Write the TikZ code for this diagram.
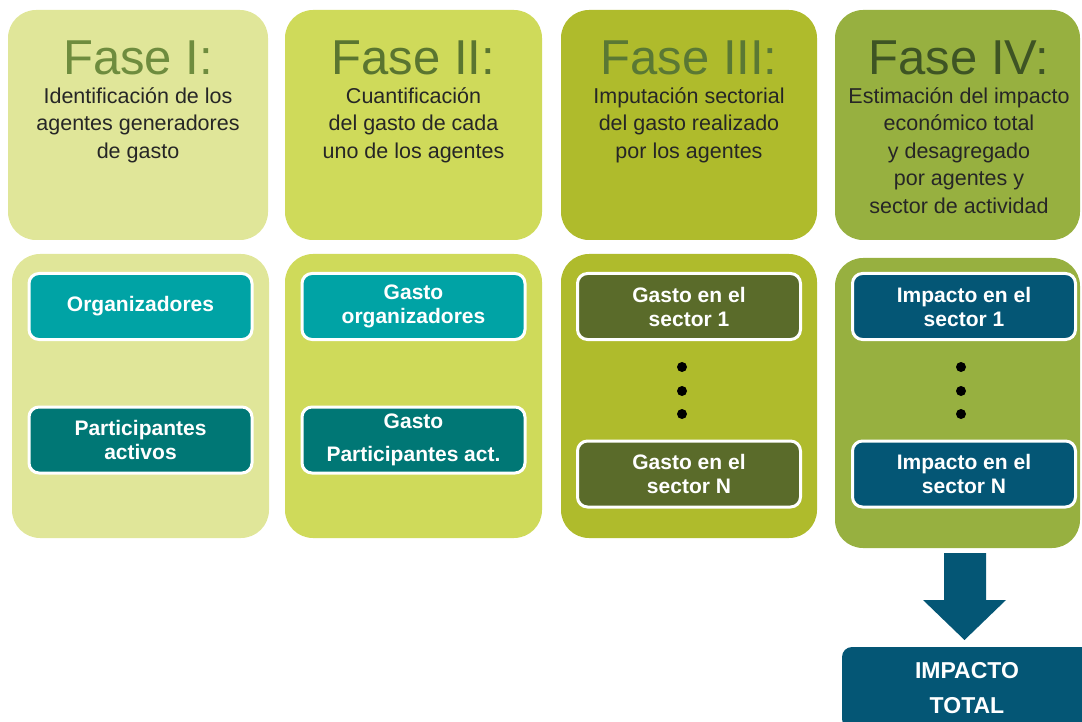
\documentclass[tikz,border=0pt]{standalone}
\usepackage{fontspec}
\setmainfont{Liberation Sans}
\usepackage{xcolor}
\definecolor{fsone}{RGB}{224,230,153}
\definecolor{fstwo}{RGB}{207,218,90}
\definecolor{fsthree}{RGB}{175,187,44}
\definecolor{fsfour}{RGB}{151,176,64}
\definecolor{ttone}{RGB}{110,140,62}
\definecolor{tttwo}{RGB}{90,117,48}
\definecolor{ttthree}{RGB}{90,120,52}
\definecolor{ttfour}{RGB}{62,84,36}
\definecolor{tealA}{RGB}{0,163,165}
\definecolor{tealB}{RGB}{0,119,117}
\definecolor{olivebox}{RGB}{90,107,42}
\definecolor{impblue}{RGB}{4,86,117}
\usepackage{tikz}
\usetikzlibrary{positioning}

\tikzset{
  panel/.style={rounded corners=28pt, inner sep=0pt},
  fasetitle/.style={anchor=base, inner sep=0pt, font=\fontsize{49}{50}\selectfont},
  fasetext/.style={anchor=north, inner sep=0pt, align=center, text=black!85,
    font=\fontsize{21.5}{27.5}\selectfont},
  agent/.style={rounded corners=10pt, draw=white, line width=3pt, text=white,
    minimum width=223pt, minimum height=66pt, align=center, inner sep=0pt,
    font=\bfseries\fontsize{21}{24}\selectfont},
  dot/.style={circle, fill=black, minimum size=10pt, inner sep=0pt},
}

\begin{document}
\begin{tikzpicture}[x=1pt, y=-1pt]
  \useasboundingbox (0,0) rectangle (1082,722);

  % --- upper row: the four phases ---
  \node[panel, fill=fsone,   minimum width=260pt, minimum height=230pt] (f1) at (138,125) {};
  \node[panel, fill=fstwo,   minimum width=257pt, minimum height=230pt] (f2) at (413.5,125) {};
  \node[panel, fill=fsthree, minimum width=256pt, minimum height=230pt] (f3) at (689,125) {};
  \node[panel, fill=fsfour,  minimum width=245pt, minimum height=230pt] (f4) at (957.5,125) {};

  \node[fasetitle, text=ttone]   (t1) at (138,75)   {Fase I:};
  \node[fasetitle, text=tttwo]   (t2) at (413.5,75) {Fase II:};
  \node[fasetitle, text=ttthree] (t3) at (689,75)   {Fase III:};
  \node[fasetitle, text=ttfour]  (t4) at (959,75)   {Fase IV:};

  \node[fasetext] (d1) at (138,87)   {Identificación de los\\agentes generadores\\de gasto};
  \node[fasetext] (d2) at (413.5,87) {Cuantificación\\del gasto de cada\\uno de los agentes};
  \node[fasetext] (d3) at (689,87)   {Imputación sectorial\\del gasto realizado\\por los agentes};
  \node[fasetext] (d4) at (959,87)   {Estimación del impacto\\económico total\\y desagregado\\por agentes y\\sector de actividad};

  % --- lower row: agents and sectors ---
  \node[panel, fill=fsone,   minimum width=257pt, minimum height=284pt] (g1) at (140.5,396) {};
  \node[panel, fill=fstwo,   minimum width=257pt, minimum height=284pt] (g2) at (413.5,396) {};
  \node[panel, fill=fsthree, minimum width=256pt, minimum height=284pt] (g3) at (689,396) {};
  \node[panel, fill=fsfour,  minimum width=245pt, minimum height=290pt] (g4) at (957.5,403) {};

  \node[agent, fill=tealA] (org)  at (140.5,306.5) {Organizadores};
  \node[agent, fill=tealB] (part) at (140.5,440)   {Participantes\\activos};

  \node[agent, fill=tealA] (gorg)  at (413.5,306.5) {Gasto\\organizadores};
  \node[agent, fill=tealB] (gpart) at (413.5,440)   {Gasto\\[9pt]Participantes act.};

  \node[agent, fill=olivebox] (gs1) at (689,306.5) {Gasto en el\\sector 1};
  \node[agent, fill=olivebox] (gsn) at (689,474)   {Gasto en el\\sector N};

  \node[agent, fill=impblue] (is1) at (964,306.5) {Impacto en el\\sector 1};
  \node[agent, fill=impblue] (isn) at (964,474)   {Impacto en el\\sector N};

  \foreach \yy [count=\i] in {367,391,414} {
    \node[dot] (ga\i) at (682,\yy) {};
    \node[dot] (ia\i) at (961,\yy) {};
  }

  % --- total ---
  \fill[impblue] (944,553) -- (986,553) -- (986,600) -- (1006,600) -- (964.5,640)
    -- (923,600) -- (944,600) -- cycle;
  \node[fill=impblue, rounded corners=10pt, minimum width=250pt, minimum height=82pt,
    text=white, align=center, inner sep=0pt,
    font=\bfseries\fontsize{23}{35}\selectfont] (tot) at (967,688) {IMPACTO\\TOTAL};
\end{tikzpicture}
\end{document}
